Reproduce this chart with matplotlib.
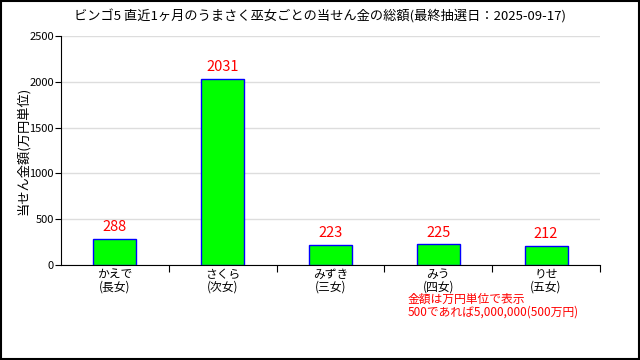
import matplotlib as mpl
from matplotlib import pyplot as plt
import numpy as np

mpl.rcParams['font.family'] = ['Noto Sans CJK JP', 'DejaVu Sans']

# data
names = ['かえで\n(長女)', 'さくら\n(次女)', 'みずき\n(三女)', 'みう\n(四女)', 'りせ\n(五女)']
amounts = [288, 2031, 223, 225, 212]
title = 'ビンゴ5 直近1ヶ月のうまさく巫女ごとの当せん金の総額(最終抽選日：2025-09-17)'
note = '金額は万円単位で表示\n500であれば5,000,000(500万円)'

fig = plt.figure(figsize=(6.4, 3.6), dpi=100)
ax1 = fig.add_axes([61/640, 95/360, 539/640, 229/360])

x = np.arange(len(amounts))
bars = ax1.bar(x, amounts, width=0.4, color='#00ff00', edgecolor='blue', linewidth=1, zorder=3)
for xi, v in zip(x, amounts):
    ax1.text(xi, v + 50, str(v), color='red', ha='center', va='bottom', fontsize=10.5)

ax1.set_xlim(-0.5, len(amounts) - 0.5)
ax1.set_ylim(0, 2500)
ax1.set_yticks([0, 500, 1000, 1500, 2000, 2500])
ax1.yaxis.grid(True, color='#dddddd', linewidth=1, zorder=0)
ax1.set_axisbelow(True)
ax1.spines['top'].set_visible(False)
ax1.spines['right'].set_visible(False)

# category labels under bars, ticks on boundaries
ax1.set_xticks(np.arange(len(amounts)) + 0.5)
ax1.set_xticklabels([])
ax1.tick_params(axis='x', length=5, direction='out')
ax1.tick_params(axis='y', length=4, labelsize=8, pad=1)
for xi, n in zip(x, names):
    ax1.text(xi, -30, n, ha='center', va='top', fontsize=8.5, linespacing=1.0)

ax1.set_ylabel('当せん金額(万円単位)', fontsize=9.5)
ax1.yaxis.set_label_coords(-0.058, 0.5)
fig.text(0.5, 1 - 16/360, title, ha='center', va='center', fontsize=9.5)
fig.text(408/640, 1 - 306/360, note, color='red', ha='left', va='center',
         fontsize=8.5, linespacing=0.95)

# black frame round the figure
fig.patches.append(mpl.patches.Rectangle((0.001, 0.002), 0.997, 0.996, transform=fig.transFigure,
                                         fill=False, edgecolor='black', linewidth=1.5))

fig.savefig('out.png', dpi=100)
